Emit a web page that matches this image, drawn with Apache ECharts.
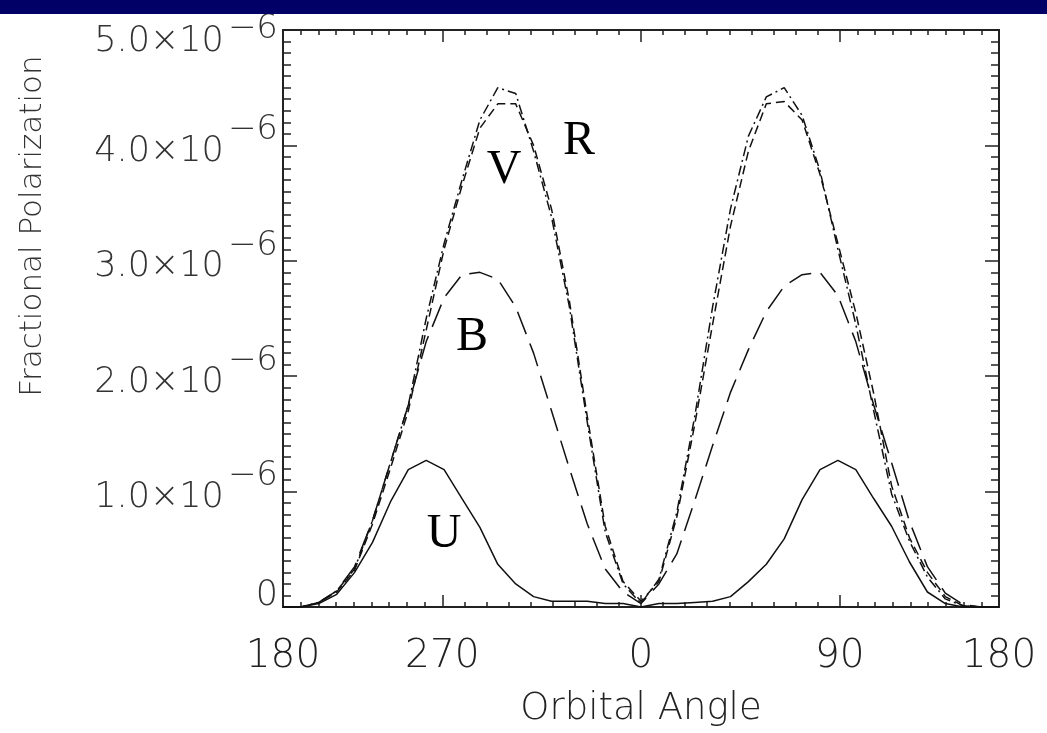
<!DOCTYPE html>
<html>
<head>
<meta charset="utf-8">
<script src="https://cdn.jsdelivr.net/npm/echarts@6/dist/echarts.min.js"></script>
<style>
  html, body { margin: 0; padding: 0; background: #fff; }
  #main { width: 1047px; height: 733px; }
</style>
</head>
<body>
<div id="main"></div>
<script>
  // x = orbital phase step (0..40), the angle labels sit at uneven phase positions
  var angleLabels = ['180', '270', '0', '90', '180'];
  var anglePos = [0, 8.9, 20, 31.1, 40];
  var yTicks = [0, 1, 2, 3, 4, 5]; // units of 1e-6

  // fractional polarization, units of 1e-6, one value per phase step
  var uBand = [0, 0, 0.03, 0.11, 0.30, 0.56, 0.91, 1.19, 1.27, 1.19, 0.94, 0.69, 0.37, 0.20, 0.09, 0.05, 0.05, 0.05, 0.03, 0.03, 0,
               0.03, 0.03, 0.04, 0.05, 0.09, 0.22, 0.37, 0.59, 0.93, 1.19, 1.27, 1.19, 0.94, 0.70, 0.39, 0.13, 0.03, 0, 0, 0];
  var bBand = [0, 0, 0.04, 0.14, 0.35, 0.75, 1.25, 1.75, 2.30, 2.68, 2.88, 2.90, 2.84, 2.60, 2.20, 1.70, 1.20, 0.72, 0.33, 0.13, 0.03,
               0.20, 0.46, 0.92, 1.40, 1.86, 2.23, 2.56, 2.78, 2.88, 2.90, 2.70, 2.30, 1.75, 1.25, 0.74, 0.35, 0.12, 0.02, 0, 0];
  var vBand = [0, 0, 0.04, 0.13, 0.32, 0.72, 1.20, 1.70, 2.40, 3.10, 3.65, 4.15, 4.36, 4.36, 4.00, 3.45, 2.65, 1.65, 0.70, 0.22, 0.05,
               0.22, 0.78, 1.58, 2.45, 3.30, 3.95, 4.36, 4.38, 4.22, 3.75, 3.15, 2.55, 1.85, 1.05, 0.60, 0.30, 0.09, 0.01, 0, 0];
  var rBand = [0, 0, 0.04, 0.14, 0.33, 0.75, 1.25, 1.75, 2.50, 3.15, 3.70, 4.22, 4.50, 4.45, 3.95, 3.38, 2.60, 1.60, 0.65, 0.20, 0.03,
               0.24, 0.82, 1.65, 2.60, 3.45, 4.08, 4.42, 4.50, 4.26, 3.78, 3.10, 2.45, 1.70, 0.98, 0.57, 0.26, 0.07, 0.01, 0, 0];

  // 10 degree ticks: nine per quadrant
  var minorPos = [];
  for (var q = 0; q < anglePos.length - 1; q++) {
    for (var k = 1; k < 9; k++) {
      minorPos.push(anglePos[q] + (anglePos[q + 1] - anglePos[q]) * k / 9);
    }
  }

  function pairs(arr) {
    return arr.map(function (v, i) { return [i, v]; });
  }

  var chart = echarts.init(document.getElementById('main'));
  var axisColor = '#222';
  var lineColor = '#111';
  var thin = { fontFamily: 'DejaVu Sans', fontWeight: 200 };

  function xAx(pos, ticks, len, withLabel) {
    var ax = {
      type: 'value', position: pos, min: 0, max: 40,
      axisLine: { show: true, onZero: false, lineStyle: { color: axisColor, width: 2 } },
      axisTick: { show: true, inside: true, length: len, customValues: ticks, lineStyle: { color: axisColor, width: 1.5 } },
      axisLabel: { show: false },
      splitLine: { show: false }
    };
    if (withLabel) {
      ax.axisLabel = {
        show: true, customValues: anglePos, margin: 30,
        fontFamily: thin.fontFamily, fontWeight: thin.fontWeight, fontSize: 39, color: '#222',
        formatter: function (val) {
          var best = 0;
          anglePos.forEach(function (p, j) { if (Math.abs(p - val) < Math.abs(anglePos[best] - val)) best = j; });
          return angleLabels[best];
        }
      };
      ax.name = 'Orbital Angle';
      ax.nameLocation = 'middle';
      ax.nameGap = 84;
      ax.nameTextStyle = { fontFamily: thin.fontFamily, fontWeight: thin.fontWeight, fontSize: 37, color: '#222' };
    }
    return ax;
  }

  function tok(size, extra) {
    return Object.assign({ fontFamily: thin.fontFamily, fontWeight: thin.fontWeight, fontSize: size, color: '#333' }, extra);
  }

  function yAx(pos, withLabel) {
    return {
      type: 'value', position: pos, min: 0, max: 5, interval: 1,
      axisLine: { show: true, onZero: false, lineStyle: { color: axisColor, width: 2 } },
      axisTick: { show: true, inside: true, length: 14, lineStyle: { color: axisColor, width: 1.5 } },
      minorTick: { show: true, splitNumber: 10, length: 8, lineStyle: { color: axisColor, width: 1.5 } },
      splitLine: { show: false },
      minorSplitLine: { show: false },
      axisLabel: {
        show: withLabel, margin: 5,
        formatter: function (v) {
          if (v === yTicks[0]) return '{z|0}';
          // top label sits a little lower, under the banner
          if (v === yTicks[yTicks.length - 1]) return '{mt|' + v.toFixed(1) + '×10}{et|−6}';
          return '{m|' + v.toFixed(1) + '×10}{e|−6}';
        },
        rich: {
          z: tok(35, { verticalAlign: 'top', padding: [0, 0, 22, 0] }),
          m: tok(35, { verticalAlign: 'bottom', padding: [0, 0, 8, 0] }),
          e: tok(34, { verticalAlign: 'top', padding: [0, 0, 30, 4] }),
          mt: tok(35, { verticalAlign: 'bottom', padding: [24, 0, 0, 0] }),
          et: tok(34, { verticalAlign: 'top', padding: [12, 0, 0, 4] })
        }
      }
    };
  }

  function line(name, arr, type) {
    return {
      name: name, type: 'line', xAxisIndex: 0, yAxisIndex: 0,
      data: pairs(arr), symbol: 'none', smooth: false, animation: false,
      lineStyle: { color: lineColor, width: 1.5, type: type }
    };
  }

  chart.setOption({
    backgroundColor: '#fff',
    animation: false,
    grid: { left: 283, right: 48, top: 30, bottom: 125 },
    xAxis: [
      xAx('bottom', anglePos.slice(1, -1), 12, true),
      xAx('bottom', minorPos, 5, false),
      xAx('top', anglePos.slice(1, -1), 12, false),
      xAx('top', minorPos, 5, false)
    ],
    yAxis: [yAx('left', true), yAx('right', false)],
    graphic: [
      { type: 'rect', left: 0, top: 0, shape: { width: 1047, height: 14 }, style: { fill: '#000066' }, z: 10 },
      { type: 'text', x: 33, y: 226, rotation: Math.PI / 2,
        style: { text: 'Fractional Polarization', fontFamily: thin.fontFamily, fontWeight: thin.fontWeight, fontSize: 31, fill: '#333', align: 'center', verticalAlign: 'middle' } },
      { type: 'text', x: 579, y: 141, style: { text: 'R', fontFamily: 'Liberation Serif', fontSize: 48, fill: '#000', align: 'center', verticalAlign: 'middle' } },
      { type: 'text', x: 504, y: 170, style: { text: 'V', fontFamily: 'Liberation Serif', fontSize: 48, fill: '#000', align: 'center', verticalAlign: 'middle' } },
      { type: 'text', x: 472, y: 337, style: { text: 'B', fontFamily: 'Liberation Serif', fontSize: 48, fill: '#000', align: 'center', verticalAlign: 'middle' } },
      { type: 'text', x: 444, y: 534, style: { text: 'U', fontFamily: 'Liberation Serif', fontSize: 48, fill: '#000', align: 'center', verticalAlign: 'middle' } }
    ],
    series: [
      line('U', uBand, 'solid'),
      line('B', bBand, [24, 10]),
      line('V', vBand, [9, 5]),
      line('R', rBand, [10, 4, 2, 4])
    ]
  });
</script>
</body>
</html>
